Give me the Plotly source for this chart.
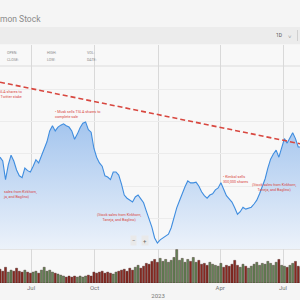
import plotly.graph_objects as go
import pandas as pd

# ---------------- data ----------------
dates = pd.date_range("2022-05-17", periods=110, freq="4D")

price = [245, 239, 210, 233, 248, 239, 225, 216, 213, 228,
         224, 222, 231, 241, 236, 247, 261, 269, 286, 294,
         286, 292, 295, 297, 294, 292, 286, 273, 281, 291,
         298, 300, 288, 284, 259, 245, 236, 231, 216, 214,
         210, 222, 222, 217, 203, 186, 181, 178, 175, 183,
         186, 180, 174, 161, 150, 136, 119, 111, 116, 119,
         121, 125, 135, 152, 166, 177, 189, 199, 208, 205,
         205, 206, 200, 191, 185, 181, 186, 188, 194, 197,
         205, 194, 185, 180, 175, 166, 156, 160, 167, 164,
         166, 167, 172, 178, 188, 199, 211, 228, 242, 250,
         256, 245, 261, 274, 267, 275, 283, 274, 261, 261]

volume = [91, 78, 104, 72, 85, 78, 98, 78, 72, 85,
          72, 65, 72, 78, 65, 85, 104, 78, 85, 72,
          65, 59, 52, 46, 39, 46, 39, 46, 39, 46,
          39, 46, 52, 46, 72, 65, 72, 78, 65, 72,
          65, 59, 72, 78, 85, 91, 78, 98, 85, 104,
          117, 98, 111, 130, 124, 143, 156, 137, 163, 143,
          156, 137, 150, 169, 221, 150, 163, 137, 156, 143,
          169, 137, 150, 124, 130, 117, 137, 124, 117, 111,
          130, 104, 117, 111, 124, 150, 117, 104, 124, 111,
          98, 111, 124, 137, 117, 130, 124, 143, 130, 117,
          137, 156, 117, 111, 104, 117, 130, 143, 111, 104]

trend_dates = ["2022-05-17", "2023-07-25 14:00"]
trend_values = [362, 266]

tick_dates = ["2022-07-01", "2022-10-01", "2023-01-01", "2023-04-01", "2023-07-01"]
tick_labels = ["Jul", "Oct", "<br>2023", "Apr", "Jul"]

x_range = ["2022-05-17", "2023-07-25 14:00"]

# ---------------- styling helpers ----------------
W = H = 300
def px(x):
    return x / W
def py(y):
    return 1 - y / H

RED_TXT = "#d8473f"
FONT = "Roboto, sans-serif"

vol_colors = ["#8b2a22"]
for i in range(1, len(price)):
    vol_colors.append("#66885a" if price[i] >= price[i - 1] else "#8b2a22")

fig = go.Figure()

fig.add_trace(go.Scatter(
    x=dates, y=price, mode="lines",
    line=dict(color="#3f8ddf", width=1.1),
    fill="tozeroy",
    fillgradient=dict(type="vertical",
                      colorscale=[[0, "rgba(236,242,250,1)"], [1, "rgba(164,197,238,1)"]],
                      start=102, stop=300),
    xaxis="x", yaxis="y", showlegend=False, hoverinfo="skip"))

fig.add_trace(go.Scatter(
    x=trend_dates, y=trend_values, mode="lines",
    line=dict(color="#d8473f", width=1.6, dash="5px,3px"),
    xaxis="x", yaxis="y", showlegend=False, hoverinfo="skip"))

fig.add_trace(go.Bar(
    x=dates, y=volume, marker=dict(color=vol_colors, line=dict(color="#3a1d18", width=0.4)),
    xaxis="x2", yaxis="y2", showlegend=False, hoverinfo="skip"))

annotations = []
def note(text, x, y, xanchor="left", align="left", size=3.7, color=RED_TXT):
    annotations.append(dict(text=text, x=px(x), y=py(y), xref="paper", yref="paper",
                            xanchor=xanchor, yanchor="middle", align=align, showarrow=False,
                            font=dict(size=size, color=color, family=FONT)))

# toolbar
note("1D", 278.5, 35.5, xanchor="center", align="center", size=5, color="#555555")
note("˅", 290, 37, xanchor="center", align="center", size=6, color="#9a9a9a")

# info labels
for lab, x, y in [("OPEN:", 5, 53), ("CLOSE:", 5, 60), ("HIGH:", 45, 53),
                  ("LOW:", 45, 60), ("VOL:", 85, 53), ("DATE:", 85, 60)]:
    note(lab, x, y, size=3.6, color="#8a8a8a")

# event annotations (left-edge ones show the visible parts as in the reference)
note("SLA shares to<br>Twitter stake", 24, 94, xanchor="right", align="right")
note("• Musk sells TSLA shares to<br>complete sale", 53, 114.5)
note("sales from Kirkhorn,<br>ja, and Baglino)", 1, 194.5)
note("(Stock sales from Kirkhorn,<br>Taneja, and Baglino)", 119, 217.5, xanchor="center", align="center")
note("• Kimbal sells<br>300,000 shares", 221, 179.5)
note("(Stock sales from Kirkhorn,<br>Taneja, and Baglino)", 299, 187.5, xanchor="right", align="center")

# zoom buttons
for t, x in [("−", 133.5), ("+", 144.5)]:
    annotations.append(dict(text=t, x=px(x), y=py(240), xref="paper", yref="paper",
                            xanchor="center", yanchor="middle", showarrow=False,
                            bgcolor="#e9e9e9", borderpad=1,
                            font=dict(size=6, color="#666666", family=FONT)))

shapes = [
    dict(type="rect", xref="paper", yref="paper", x0=0, x1=1, y0=py(44), y1=py(27),
         fillcolor="#ececec", line=dict(width=0), layer="below"),
    dict(type="line", xref="paper", yref="paper", x0=0, x1=1, y0=py(66), y1=py(66),
         line=dict(color="#dcdcdc", width=1), layer="below"),
    dict(type="line", xref="paper", yref="paper", x0=0, x1=1, y0=py(249), y1=py(249),
         line=dict(color="#d0d0d0", width=1), layer="below"),
    dict(type="line", xref="paper", yref="paper", x0=px(297.5), x1=px(297.5), y0=py(30), y1=py(41),
         line=dict(color="#d0d0d0", width=1)),
]

fig.update_layout(
    width=W, height=H, margin=dict(l=0, r=0, t=0, b=0),
    paper_bgcolor="#f5f5f5", plot_bgcolor="#f8f8f8",
    title=dict(text="mon Stock", x=0, xref="container", xanchor="left",
               y=py(19), yref="container", yanchor="middle",
               font=dict(size=8.5, color="#8a8a8a", family=FONT)),
    bargap=0.25,
    xaxis=dict(domain=[0, 1], anchor="y", type="date", range=x_range,
               tickvals=tick_dates, showticklabels=False, showgrid=True,
               gridcolor="#d9d9d9", gridwidth=1, zeroline=False, showline=False, ticks=""),
    yaxis=dict(domain=[py(249), py(45)], range=[101.8, 420], tickvals=[150, 200, 250, 300, 350],
               showticklabels=False, showgrid=True, gridcolor="#ececec", zeroline=False, ticks=""),
    xaxis2=dict(domain=[0, 1], anchor="y2", type="date", range=x_range, matches="x",
                tickvals=tick_dates, ticktext=tick_labels, showgrid=True, gridcolor="#d9d9d9",
                zeroline=False, showline=False, ticks="",
                tickfont=dict(size=6, color="#777777", family=FONT)),
    yaxis2=dict(domain=[py(283), py(249)], range=[0, 225], showgrid=False,
                showticklabels=False, zeroline=False, ticks=""),
    annotations=annotations, shapes=shapes,
)

fig.write_html("out.html")
